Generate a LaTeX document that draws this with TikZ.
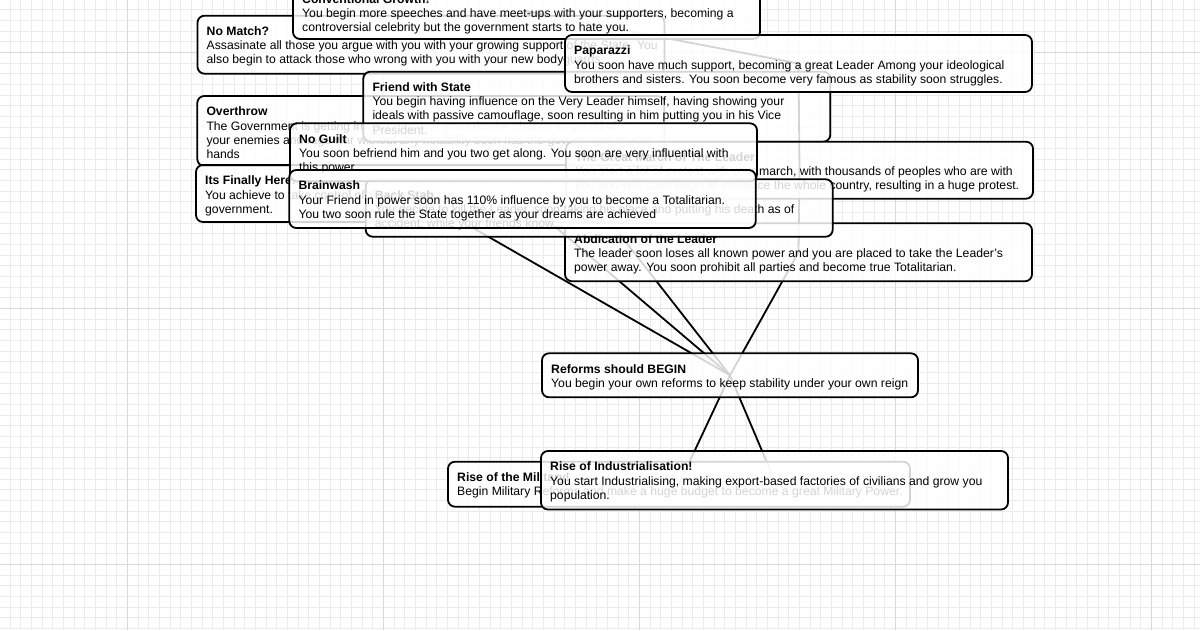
\documentclass[tikz,border=0pt]{standalone}
\usepackage{fontspec}
\setmainfont{Liberation Sans}
\pgfdeclarelayer{gridlayer}
\pgfdeclarelayer{edgelayer}
\pgfsetlayers{gridlayer,edgelayer,main}
\definecolor{gminorc}{HTML}{EBEBEB}
\definecolor{gmajorc}{HTML}{D9D9D9}
\tikzset{
  card/.style={draw=black, line width=1.8pt, rounded corners=7pt, fill=white, fill opacity=0.83, inner sep=0pt, outer sep=0pt},
  cardtext/.style={anchor=north west, align=left, inner sep=0pt, text=black, font=\fontsize{12.2}{14.2}\selectfont},
  link/.style={draw=black, line width=1.8pt},
  gminor/.style={draw=gminorc, line width=0.8pt},
  gmajor/.style={draw=gmajorc, line width=0.8pt}
}
\newcommand\mycard[7]{%
  \node[card, anchor=north west, minimum width=#4pt, minimum height=#5pt] (#1) at (#2,#3) {};
  \node[cardtext] (#1-t) at ($(#2,#3)+(9,9.6)$) {\rule{0pt}{10pt}\textbf{#6}\\#7};
}
\usetikzlibrary{calc}
\begin{document}
\begin{tikzpicture}[x=1pt,y=-1pt]
\useasboundingbox (0,0) rectangle (1200,630);
\begin{pgfonlayer}{gridlayer}
\fill[white] (0,0) rectangle (1200,630);
\foreach \i in {0,...,113} {\pgfmathsetmacro\xx{10.17+10.6667*\i}\draw[gminor] (\xx,0) -- (\xx,630);}
\foreach \i in {0,...,59} {\pgfmathsetmacro\yy{9.63+10.6667*\i}\draw[gminor] (0,\yy) -- (1200,\yy);}
\foreach \xx in {127.5,383.5,639.5,895.5,1151.5} {\draw[gmajor] (\xx,0) -- (\xx,630);}
\foreach \yy in {52.3,308.3,564.3} {\draw[gmajor] (0,\yy) -- (1200,\yy);}
\end{pgfonlayer}

\mycard{nomatch}{197.5}{15.7}{467}{58}{No Match?}{Assasinate all those you argue with you with your growing support of the State. You\\also begin to attack those who wrong with you with your new bodyguards}
\mycard{cg}{293}{-16.5}{467}{55.5}{Conventional Growth!}{You begin more speeches and have meet-ups with your supporters, becoming a\\controversial celebrity but the government starts to hate you.}
\mycard{over}{197.3}{96}{467}{70}{Overthrow}{The Government is getting into a mess and you take the chance to get rid of\\your enemies and rage war without any notability soon has the government in your\\hands}
\mycard{final}{196}{165}{434}{57}{Its Finally Here!}{You achieve to take control of the State and its\\government.}
\mycard{friend}{363.3}{71.7}{467}{70}{Friend with State}{You begin having influence on the Very Leader himself, having showing your\\ideals with passive camouflage, soon resulting in him putting you in his Vice\\President.}
\mycard{pap}{565}{35}{467}{57}{Paparazzi}{You soon have much support, becoming a great Leader Among your ideological\\brothers and sisters. You soon become very famous as stability soon struggles.}
\mycard{march}{566}{141.7}{467}{57}{The Great March of The Leader}{You start a lot of protest with your march, with thousands of peoples who are with\\you and you soon begin to influence the whole country, resulting in a huge protest.}
\mycard{abd}{565}{223.3}{467}{58}{Abdication of the Leader}{The leader soon loses all known power and you are placed to take the Leader's\\power away. You soon prohibit all parties and become true Totalitarian.}
\mycard{back}{365.7}{179.3}{467}{57.4}{Back Stab}{You decide to kill the Leader, soon taking his place and putting his death as of\\accident, while your friends know...}
\mycard{noguilt}{290}{123.3}{467}{58}{No Guilt}{You soon befriend him and you two get along. You soon are very influential with\\this power}
\mycard{brain}{289.3}{170}{466.5}{58}{Brainwash}{Your Friend in power soon has 110\% influence by you to become a Totalitarian.\\You two soon rule the State together as your dreams are achieved}
\mycard{reforms}{542}{353.3}{376}{44}{Reforms should BEGIN}{You begin your own reforms to keep stability under your own reign}
\mycard{mil}{448}{461.7}{462}{45}{Rise of the Military!}{Begin Military Reforms and make a huge budget to become a great Military Power.}
\mycard{ind}{541}{451}{467}{58.5}{Rise of Industrialisation!}{You start Industrialising, making export-based factories of civilians and grow you\\population.}

\begin{pgfonlayer}{edgelayer}
\draw[link] (cg.center) -- (pap.center);
\draw[link] (pap.center) -- (march.center);
\draw[link] (march.center) -- (abd.center);
\draw[link] (reforms.center) -- (abd.center);
\draw[link] (reforms.center) -- (back.center);
\draw[link] (reforms.center) -- (brain.center);
\draw[link] (reforms.center) -- (final.center);
\draw[link] (reforms.center) -- (mil.center);
\draw[link] (reforms.center) -- (ind.center);
\end{pgfonlayer}
\end{tikzpicture}
\end{document}
